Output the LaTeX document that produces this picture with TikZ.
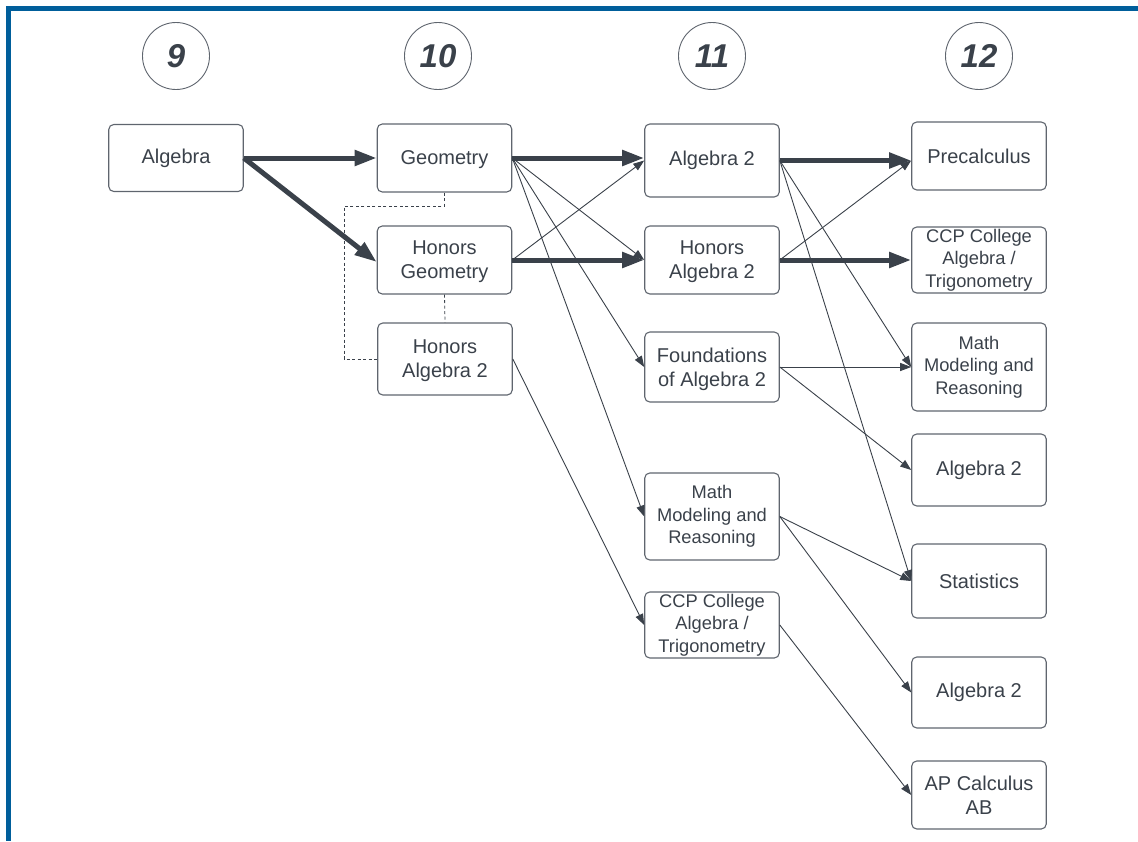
\documentclass[tikz,border=0pt]{standalone}
\usepackage{fontspec}
\setmainfont{Liberation Sans}
\usetikzlibrary{arrows.meta}
\definecolor{frameblue}{RGB}{0,94,155}
\definecolor{txt}{RGB}{58,65,74}
\definecolor{edge}{RGB}{95,101,110}
\newcommand\fsz[2]{\fontsize{#1pt}{#2pt}\selectfont}
\tikzset{
  box/.style={draw=edge, line width=1.1pt, rounded corners=5pt, minimum width=134.5pt,
    inner sep=0pt, align=center, text=txt, font=\fsz{20}{24}},
  lowtext/.style={text depth=0pt},
  smallbox/.style={box, font=\fsz{18.3}{22.3}},
  yearcirc/.style={circle, draw=edge, line width=0.9pt, minimum size=67pt, inner sep=0pt,
    text=txt, font=\fsz{33}{36}\bfseries\itshape},
  thickarrow/.style={draw=txt, line width=5pt, -{Triangle[length=22pt,width=15pt]}},
  thinarrow/.style={draw=txt, line width=0.9pt, -{Triangle[length=11pt,width=8pt]}},
  dashline/.style={draw=txt, line width=0.8pt, dash pattern=on 3pt off 2.5pt},
}
\begin{document}
\begin{tikzpicture}[x=1pt,y=-1pt]
\useasboundingbox (0,0) rectangle (1138,841);
% frame
\fill[frameblue] (6,6) rectangle (1138,10.5);
\fill[frameblue] (6,6) rectangle (10.5,841);
% year circles
\node[yearcirc] (c9) at (176,56) {9};
\node[yearcirc] (c10) at (438,56) {10};
\node[yearcirc] (c11) at (712,56) {11};
\node[yearcirc] (c12) at (979,56) {12};
% column 9
\node[box, minimum height=67pt] (alg) at (176,158) {Algebra};
% column 10
\node[box, lowtext, minimum height=68pt] (geo) at (444.5,158) {Geometry};
\node[box, lowtext, minimum height=68pt] (hgeo) at (444.5,260) {Honors\\Geometry};
\node[box, lowtext, minimum height=72pt] (halgA) at (445,359) {Honors\\Algebra 2};
% column 11
\node[box, minimum height=73pt] (alg2) at (712,160.5) {Algebra 2};
\node[box, lowtext, minimum height=68pt] (halgB) at (712,260) {Honors\\Algebra 2};
\node[box, lowtext, minimum height=70pt] (found) at (712,367) {Foundations\\of Algebra 2};
\node[smallbox, minimum height=87pt] (mmrA) at (712,516.5) {Math\\Modeling and\\Reasoning};
\node[smallbox, minimum height=66pt] (ccpA) at (712,625) {CCP College\\Algebra /\\Trigonometry};
% column 12
\node[box, minimum height=68pt] (pre) at (979,156) {Precalculus};
\node[smallbox, minimum height=66pt] (ccpB) at (979,260) {CCP College\\Algebra /\\Trigonometry};
\node[smallbox, minimum height=88pt] (mmrB) at (979,367) {Math\\Modeling and\\Reasoning};
\node[box, minimum height=72pt] (alg2b) at (979,470) {Algebra 2};
\node[box, minimum height=74pt] (stat) at (979,581) {Statistics};
\node[box, minimum height=71pt] (alg2c) at (979,692.5) {Algebra 2};
\node[box, minimum height=68pt] (ap) at (979,795) {AP Calculus\\AB};
% dashed links
\coordinate (dl) at (344,206);
\draw[dashline] (geo.south) |- (dl) |- (halgA.west);
\draw[dashline] (hgeo.south) -- (halgA.north);
% thick arrows
\draw[thickarrow] (alg.east) -- (geo.west);
\draw[thickarrow] (alg.east) -- ([yshift=-2pt]hgeo.west);
\draw[thickarrow] (geo.east) -- (geo.east -| alg2.west);
\draw[thickarrow] (hgeo.east) -- (halgB.west);
\draw[thickarrow] (alg2.east) -- (alg2.east -| pre.west);
\draw[thickarrow] (halgB.east) -- (ccpB.west);
% thin arrows
\draw[thinarrow] (geo.east) -- (halgB.west);
\draw[thinarrow] (geo.east) -- (found.west);
\draw[thinarrow] (geo.east) -- (mmrA.west);
\draw[thinarrow] (hgeo.east) -- (alg2.west);
\draw[thinarrow] (halgA.east) -- (ccpA.west);
\draw[thinarrow] (halgB.east) -- (alg2.east -| pre.west);
\draw[thinarrow] (alg2.east) -- (mmrB.west);
\draw[thinarrow] (alg2.east) -- (stat.west);
\draw[thinarrow] (found.east) -- (mmrB.west);
\draw[thinarrow] (found.east) -- (alg2b.west);
\draw[thinarrow] (mmrA.east) -- (stat.west);
\draw[thinarrow] (mmrA.east) -- (alg2c.west);
\draw[thinarrow] (ccpA.east) -- (ap.west);
\end{tikzpicture}
\end{document}
